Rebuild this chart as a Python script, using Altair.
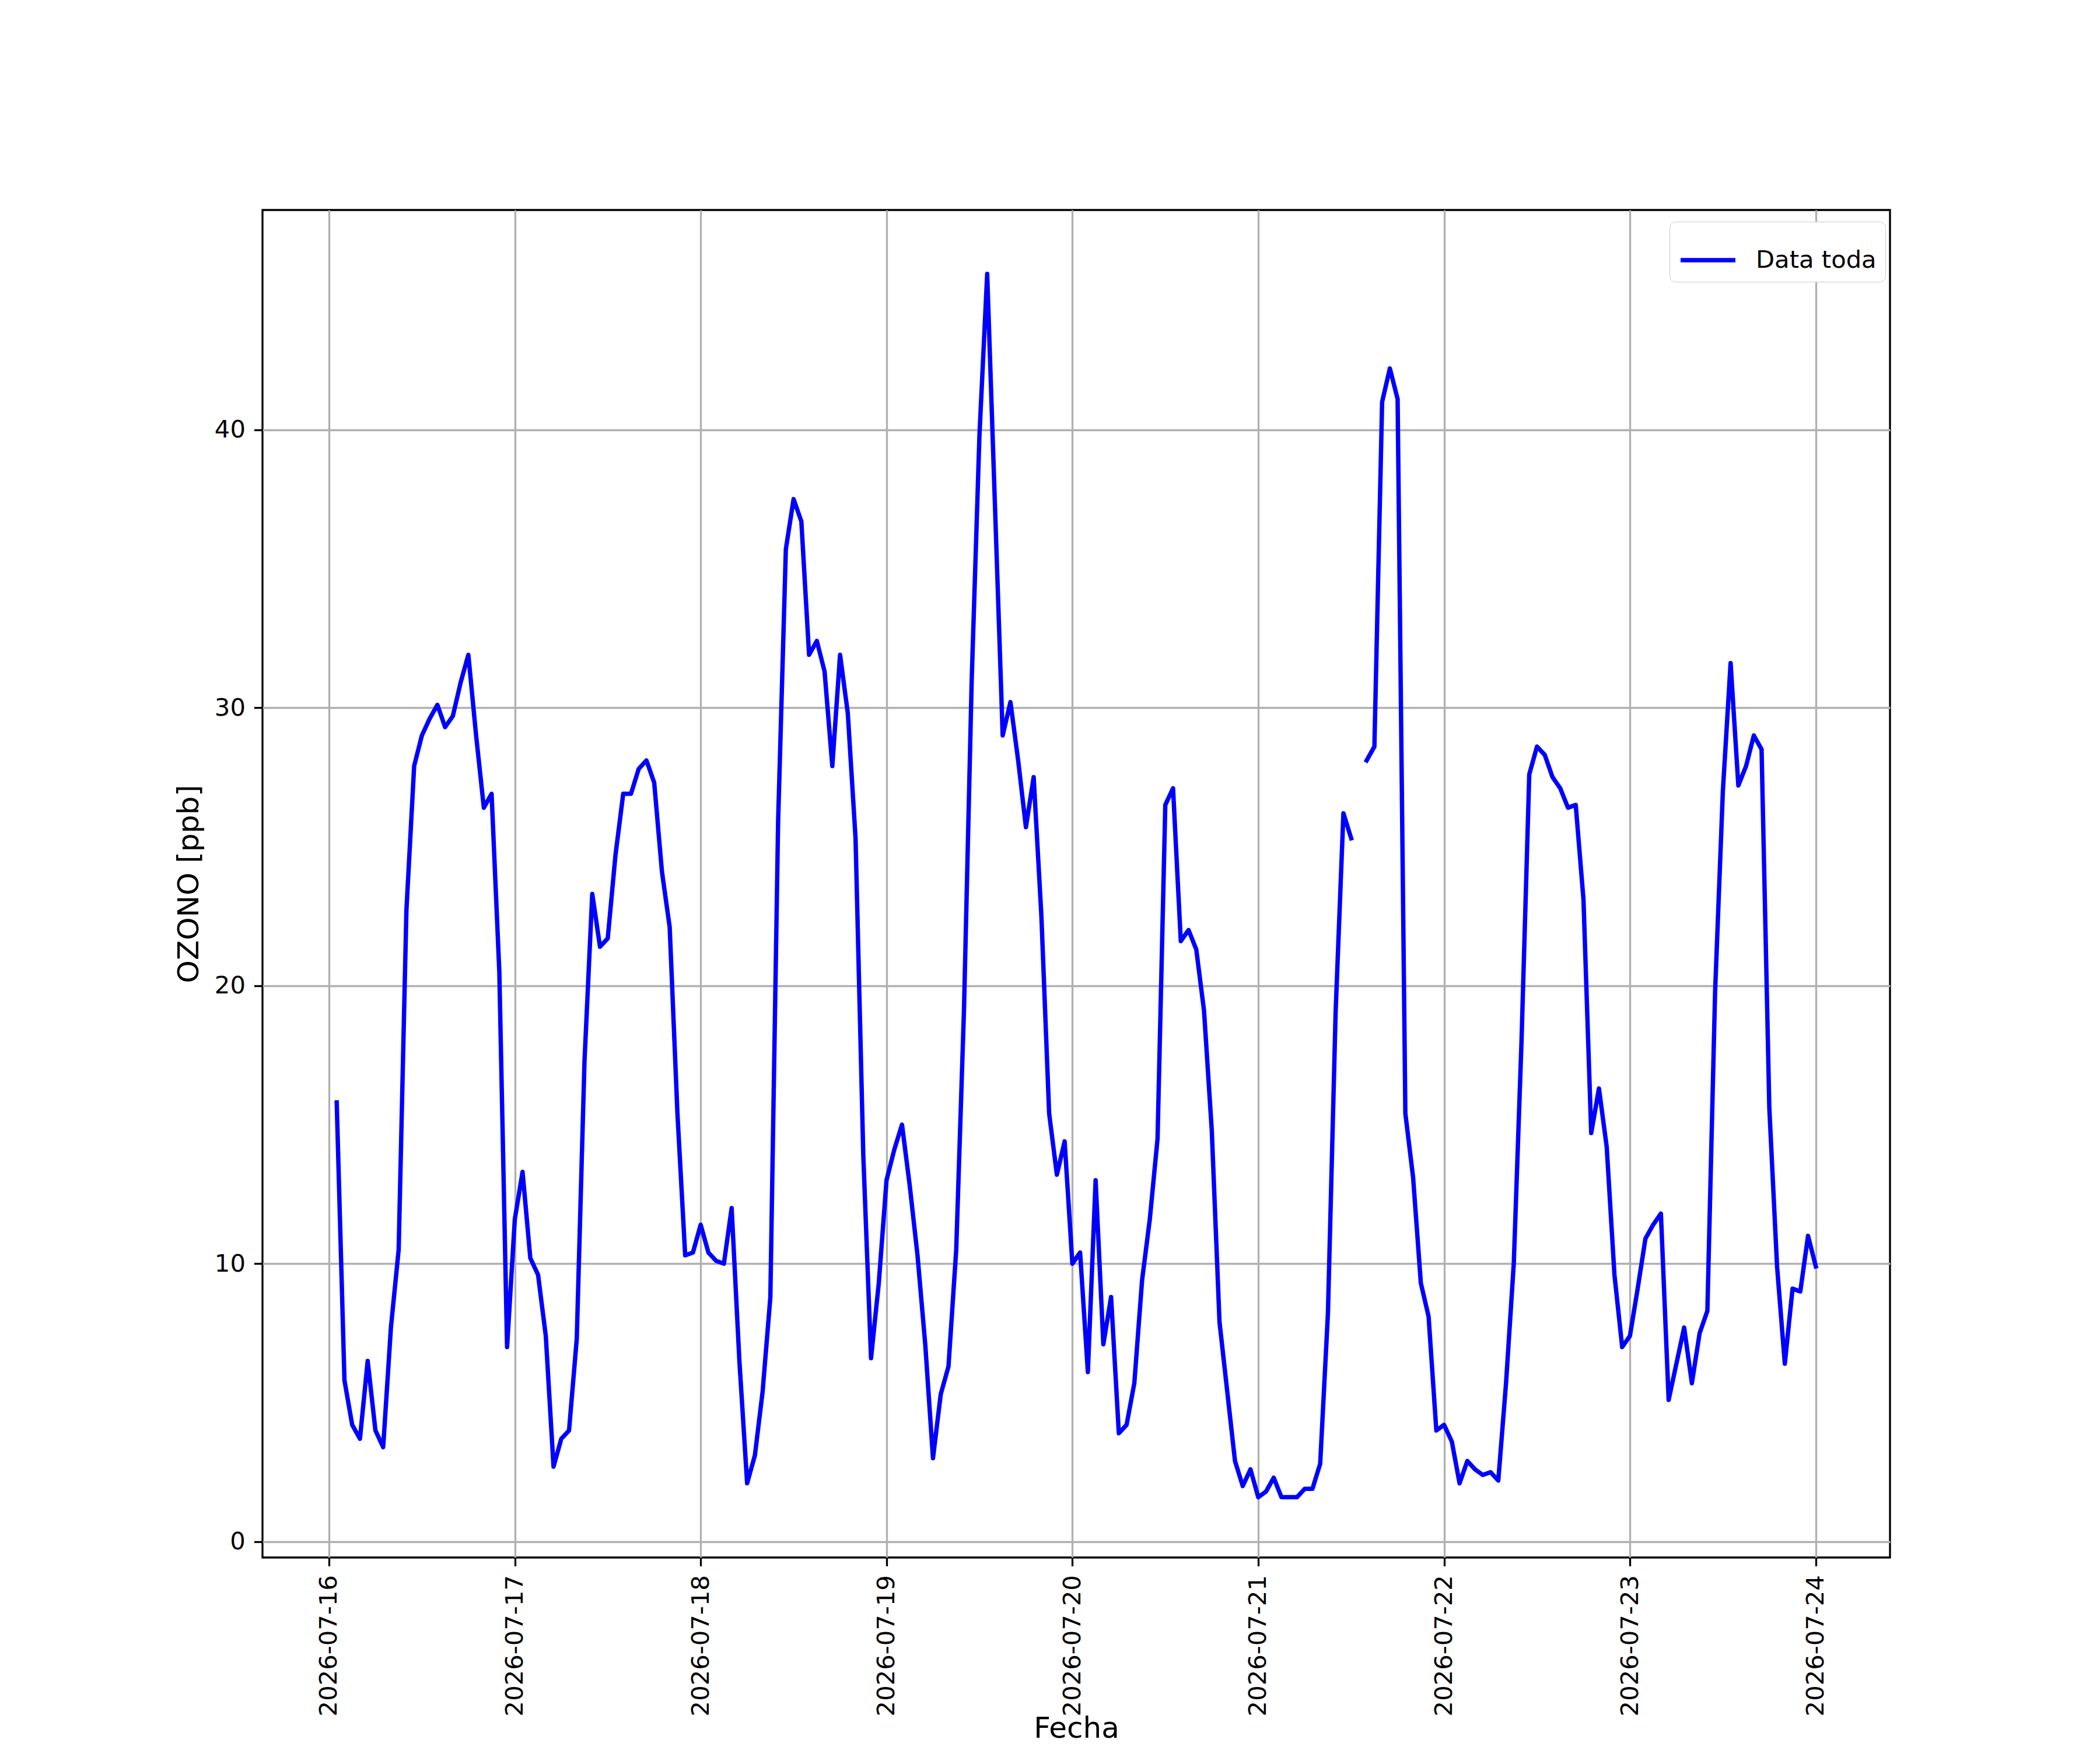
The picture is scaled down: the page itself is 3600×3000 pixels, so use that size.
import altair as alt
import pandas as pd

# Hourly ozone values (ppb), first point 2026-07-16 01:00
d16 = [15.8, 5.8, 4.2, 3.7, 6.5, 4.0, 3.4, 7.7, 10.5, 22.7, 27.9, 29.0, 29.6,
       30.1, 29.3, 29.7, 30.9, 31.9, 29.0, 26.4, 26.9, 20.5, 7.0]
d17 = [11.6, 13.3, 10.2, 9.6, 7.4, 2.7, 3.7, 4.0, 7.3, 17.3, 23.3, 21.4, 21.7,
       24.7, 26.9, 26.9, 27.8, 28.1, 27.3, 24.1, 22.1, 15.4, 10.3, 10.4]
d18 = [11.4, 10.4, 10.1, 10.0, 12.0, 6.5, 2.1, 3.1, 5.4, 8.8, 25.9, 35.7, 37.5,
       36.7, 31.9, 32.4, 31.3, 27.9, 31.9, 29.8, 25.3, 13.9, 6.6, 9.3]
d19 = [13.0, 14.1, 15.0, 12.8, 10.3, 7.1, 3.0, 5.3, 6.3, 10.5, 19.1, 31.0, 39.8,
       45.6, 37.3, 29.0, 30.2, 28.1, 25.7, 27.5, 22.5, 15.4, 13.2, 14.4]
d20 = [10.0, 10.4, 6.1, 13.0, 7.1, 8.8, 3.9, 4.2, 5.7, 9.4, 11.6, 14.5, 26.5,
       27.1, 21.6, 22.0, 21.3, 19.1, 14.8, 7.9, 5.4, 2.9, 2.0, 2.6]
d21 = [1.6, 1.8, 2.3, 1.6, 1.6, 1.6, 1.9, 1.9, 2.8, 8.2, 19.1, 26.2, 25.3, None,
       28.1, 28.6, 41.0, 42.2, 41.1, 15.4, 13.1, 9.3, 8.1, 4.0]
d22 = [4.2, 3.6, 2.1, 2.9, 2.6, 2.4, 2.5, 2.2, 5.7, 10.0, 18.0, 27.6, 28.6,
       28.3, 27.5, 27.1, 26.4, 26.5, 23.1, 14.7, 16.3, 14.2, 9.6, 7.0]
d23 = [7.4, 9.1, 10.9, 11.4, 11.8, 5.1, 6.4, 7.7, 5.7, 7.5, 8.3, 19.8, 27.0,
       31.6, 27.2, 27.9, 29.0, 28.5, 15.6, 9.9, 6.4, 9.1, 9.0, 11.0]
d24 = [9.9]

values = d16 + d17 + d18 + d19 + d20 + d21 + d22 + d23 + d24
times = pd.date_range("2026-07-16 01:00", periods=len(values), freq="h")

df = pd.DataFrame({"fecha": times, "ozono": values})
df["seg"] = df["ozono"].isna().cumsum()
df = df.dropna().copy()
df["serie"] = "Data toda"
df["fecha"] = df["fecha"].dt.strftime("%Y-%m-%dT%H:%M:%S")

FONT = "DejaVu Sans"
LW = 7.5
day_ticks = [alt.DateTime(year=2026, month=7, date=d) for d in range(16, 25)]

chart = alt.Chart(df).mark_line(
    strokeWidth=LW, strokeJoin="round", strokeCap="square"
).encode(
    x=alt.X(
        "fecha:T",
        title="Fecha",
        scale=alt.Scale(
            domain=[
                alt.DateTime(year=2026, month=7, date=15, hours=15, minutes=25),
                alt.DateTime(year=2026, month=7, date=24, hours=9, minutes=35),
            ],
            nice=False,
        ),
        axis=alt.Axis(
            values=day_ticks,
            format="%Y-%m-%d",
            labelAngle=270,
            labelAlign="right",
            labelBaseline="middle",
            labelLimit=0,
            titleY=268,
            titleBaseline="top",
        ),
    ),
    y=alt.Y(
        "ozono:Q",
        title="OZONO [ppb]",
        scale=alt.Scale(domain=[-0.57, 47.9], nice=False, zero=False),
        axis=alt.Axis(values=[0, 10, 20, 30, 40], titlePadding=18),
    ),
    detail="seg:N",
    color=alt.Color(
        "serie:N",
        scale=alt.Scale(domain=["Data toda"], range=["#0000ff"]),
        legend=alt.Legend(
            title=None,
            orient="none",
            legendX=2412,
            legendY=20,
            symbolType="stroke",
            symbolSize=8836,
            symbolStrokeWidth=LW,
            labelFontSize=41.7,
            labelFont=FONT,
            labelColor="black",
            labelOffset=31,
            labelLimit=0,
            padding=15,
            strokeColor="#cccccc",
            cornerRadius=10,
            fillColor="white",
        ),
    ),
).properties(
    width=2790,
    height=2310,
    background="white",
    autosize=alt.AutoSizeParams(type="none"),
    padding={"left": 442, "top": 352, "right": 352, "bottom": 320},
).configure_view(
    stroke="black", strokeWidth=3.3
).configure_axis(
    domain=False,
    grid=True,
    gridColor="#b0b0b0",
    gridWidth=3.3,
    gridOpacity=1,
    tickColor="black",
    tickSize=14.6,
    tickWidth=3.3,
    labelFont=FONT,
    labelFontSize=41.7,
    labelColor="black",
    labelPadding=15,
    labelLimit=0,
    titleFont=FONT,
    titleFontSize=50,
    titleFontWeight="normal",
    titleColor="black",
)

chart.save("out.html", embed_options={"renderer": "svg", "actions": False})
